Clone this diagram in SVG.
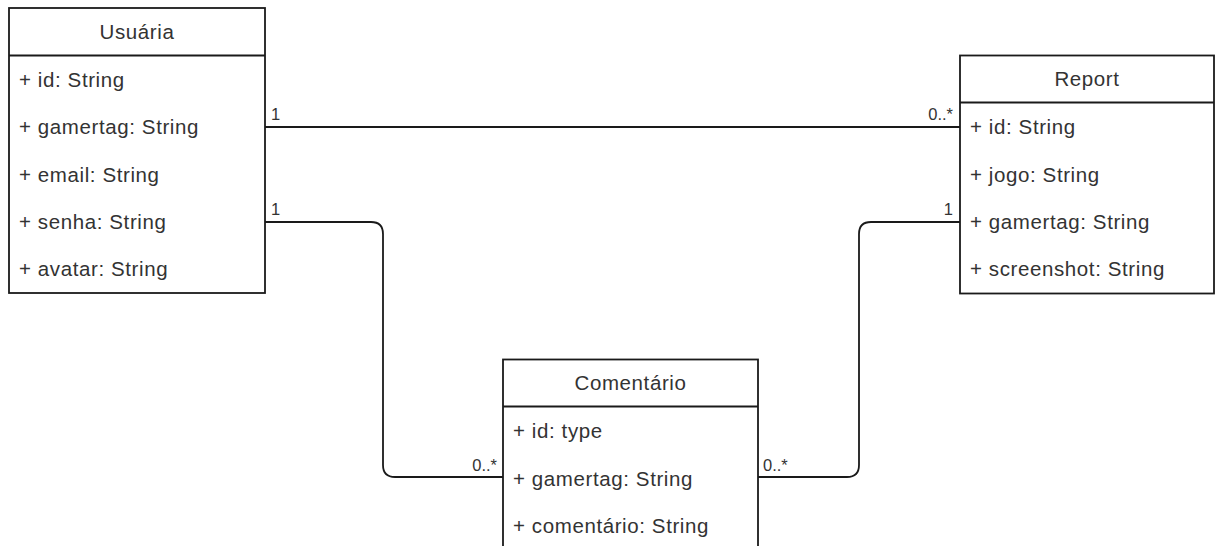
<svg xmlns="http://www.w3.org/2000/svg" width="1215" height="546" viewBox="0 0 1215 546">
<style>
.box{fill:#fff;stroke:#1a1a1a;stroke-width:1.8}
.t{font-family:"Liberation Sans",Arial,sans-serif;font-size:20.5px;fill:#333;letter-spacing:0.6px}
.h{text-anchor:middle}
.lbl{font-family:"Liberation Sans",Arial,sans-serif;font-size:16.5px;fill:#333}
.c{fill:none;stroke:#1a1a1a;stroke-width:1.8}
</style>
<rect width="1215" height="546" fill="#fff"/>
<g id="connectors">
<path class="c" d="M265 127 H960"/>
<path class="c" d="M265 222 H371 Q383 222 383 234 V465 Q383 477 395 477 H503"/>
<path class="c" d="M758 477 H847 Q859 477 859 465 V234 Q859 222 871 222 H960"/>
<text class="lbl" x="271" y="120">1</text>
<text class="lbl" x="953" y="120" text-anchor="end">0..*</text>
<text class="lbl" x="271" y="215">1</text>
<text class="lbl" x="953" y="215" text-anchor="end">1</text>
<text class="lbl" x="497" y="471" text-anchor="end">0..*</text>
<text class="lbl" x="763" y="471">0..*</text>
</g>
<g id="usuaria">
<rect class="box" x="9" y="8" width="256" height="285"/>
<line class="box" x1="9" y1="55.5" x2="265" y2="55.5"/>
<text class="t h" x="137" y="39">Usuária</text>
<text class="t" x="19" y="87">+ id: String</text>
<text class="t" x="19" y="134">+ gamertag: String</text>
<text class="t" x="19" y="182">+ email: String</text>
<text class="t" x="19" y="229">+ senha: String</text>
<text class="t" x="19" y="276">+ avatar: String</text>
</g>
<g id="report">
<rect class="box" x="960" y="55.5" width="254" height="238"/>
<line class="box" x1="960" y1="102.5" x2="1214" y2="102.5"/>
<text class="t h" x="1087" y="86">Report</text>
<text class="t" x="970" y="134">+ id: String</text>
<text class="t" x="970" y="182">+ jogo: String</text>
<text class="t" x="970" y="229">+ gamertag: String</text>
<text class="t" x="970" y="276">+ screenshot: String</text>
</g>
<g id="comentario">
<rect class="box" x="503" y="359.5" width="255" height="240"/>
<line class="box" x1="503" y1="406.5" x2="758" y2="406.5"/>
<text class="t h" x="630.5" y="390">Comentário</text>
<text class="t" x="513" y="438">+ id: type</text>
<text class="t" x="513" y="486">+ gamertag: String</text>
<text class="t" x="513" y="533">+ comentário: String</text>
</g>
</svg>
